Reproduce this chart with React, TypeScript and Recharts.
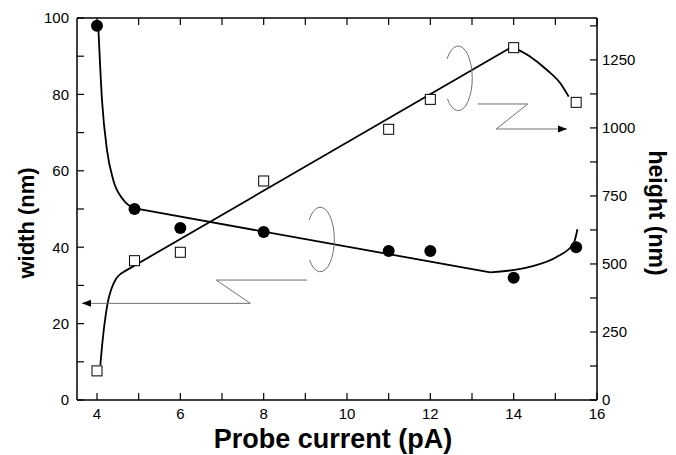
import { ComposedChart, Line, Scatter, XAxis, YAxis, ReferenceDot } from 'recharts';

// measured points
const currentPA = [4, 4.9, 6, 8, 11, 12, 14, 15.5];
const widthNm = [98, 50, 45, 44, 39, 39, 32, 40];
const heightNm = [107, 512, 543, 805, 995, 1105, 1295, 1094];

// guide curves, [x, y]
const widthFitLow = [[4.03, 98], [4.12, 78.5], [4.24, 65.4], [4.39, 57.6], [4.63, 52.4], [4.88, 50.2]];
const widthFitMid = [[4.88, 50.2], [13.44, 33.4]];
const widthFitHigh = [[13.44, 33.4], [14.4, 34.9], [15.04, 37.5], [15.44, 41], [15.53, 44.7]];
const heightFitLow = [[4.08, 128], [4.12, 196], [4.24, 343], [4.4, 429], [4.64, 471]];
const heightFitMid = [[4.64, 471], [13.96, 1298]];
const heightFitHigh = [[13.96, 1298], [14.4, 1262], [14.8, 1213], [15.12, 1164], [15.32, 1115]];

// zigzag pointers
const widthPointer = [[9.04, 31.4], [6.86, 31.4], [7.68, 25.3], [3.64, 25.3]];
const heightPointer = [[13.14, 1088], [14.34, 1088], [13.58, 996], [15.28, 996]];

const xTicks = [4, 5, 6, 7, 8, 9, 10, 11, 12, 13, 14, 15, 16];
const widthTicks = [0, 10, 20, 30, 40, 50, 60, 70, 80, 90, 100];
const heightTicks = [0, 125, 250, 375, 500, 625, 750, 875, 1000, 1125, 1250, 1375];

const toPts = (arr: number[][]) => arr.map(([x, y]) => ({ x, y }));
const widthData = currentPA.map((x, i) => ({ x, y: widthNm[i] }));
const heightData = currentPA.map((x, i) => ({ x, y: heightNm[i] }));

const GREY = '#707070';
const tickStyle = { fill: '#000', fontSize: 15, fontFamily: 'Liberation Sans, Arial, sans-serif' };
const titleFont = 'Liberation Sans, Arial, sans-serif';

const Dot = (p: any) => <circle cx={p.cx} cy={p.cy} r={6} fill="#000" />;
const Square = (p: any) => (
  <rect x={p.cx - 5} y={p.cy - 5} width={10} height={10} fill="#fff" stroke="#000" strokeWidth={1} />
);

const loop = (top: number, bottom: number) => (p: any) => (
  <path
    d={`M${p.cx - top},${p.cy - 19.5} A14,32.3 0 1 1 ${p.cx - bottom},${p.cy + 20.5}`}
    fill="none"
    stroke={GREY}
    strokeWidth={1}
  />
);

const arrowLeft = (p: any) => (
  <polygon points={`${p.cx},${p.cy} ${p.cx + 9},${p.cy - 3.5} ${p.cx + 9},${p.cy + 3.5}`} fill="#000" />
);
const arrowRight = (p: any) => (
  <polygon points={`${p.cx},${p.cy} ${p.cx - 9},${p.cy - 3.5} ${p.cx - 9},${p.cy + 3.5}`} fill="#000" />
);

export default function App() {
  return (
    <div style={{ position: 'absolute', left: 0, top: 0 }}>
      <ComposedChart width={676} height={455} margin={{ top: 17, right: 0, bottom: 0, left: 0 }}>
        <XAxis
          xAxisId="b"
          type="number"
          dataKey="x"
          domain={[3.52, 16]}
          allowDataOverflow
          ticks={xTicks}
          interval={0}
          tickFormatter={(v: number) => (v % 2 === 0 ? String(v) : '')}
          tickSize={-7}
          tickMargin={15}
          height={55}
          axisLine={{ stroke: '#000', strokeWidth: 1.5 }}
          tickLine={{ stroke: '#000', strokeWidth: 1.2 }}
          tick={tickStyle}
          label={(p: any) => (
            <text
              x={p.viewBox.x + p.viewBox.width / 2 - 4}
              y={p.viewBox.y + 48}
              textAnchor="middle"
              fontFamily={titleFont}
              fontWeight="bold"
              fontSize={27}
              fill="#000"
            >
              Probe current (pA)
            </text>
          )}
        />
        <XAxis
          xAxisId="t"
          orientation="top"
          type="number"
          dataKey="x"
          domain={[3.52, 16]}
          allowDataOverflow
          ticks={xTicks}
          interval={0}
          tickFormatter={() => ''}
          tickSize={-7}
          height={1}
          axisLine={{ stroke: '#000', strokeWidth: 1.5 }}
          tickLine={{ stroke: '#000', strokeWidth: 1.2 }}
          tick={tickStyle}
        />
        <YAxis
          yAxisId="w"
          type="number"
          dataKey="y"
          domain={[0, 100]}
          allowDataOverflow
          ticks={widthTicks}
          interval={0}
          tickFormatter={(v: number) => (v % 20 === 0 ? String(v) : '')}
          tickSize={-7}
          tickMargin={15}
          width={77}
          axisLine={{ stroke: '#000', strokeWidth: 1.5 }}
          tickLine={{ stroke: '#000', strokeWidth: 1.2 }}
          tick={tickStyle}
          label={(p: any) => (
            <text
              transform={`translate(34, ${p.viewBox.y + 205}) rotate(-90)`}
              textAnchor="middle"
              fontFamily={titleFont}
              fontWeight="bold"
              fontSize={22}
              fill="#000"
            >
              width (nm)
            </text>
          )}
        />
        <YAxis
          yAxisId="h"
          orientation="right"
          type="number"
          dataKey="y"
          domain={[0, 1404]}
          allowDataOverflow
          ticks={heightTicks}
          interval={0}
          tickFormatter={(v: number) => (v % 250 === 0 ? String(v) : '')}
          tickSize={-7}
          tickMargin={12}
          width={79}
          axisLine={{ stroke: '#000', strokeWidth: 1.5 }}
          tickLine={{ stroke: '#000', strokeWidth: 1.2 }}
          tick={tickStyle}
          label={(p: any) => (
            <text
              transform={`translate(649, ${p.viewBox.y + 195}) rotate(90)`}
              textAnchor="middle"
              fontFamily={titleFont}
              fontWeight="bold"
              fontSize={23}
              fill="#000"
            >
              height (nm)
            </text>
          )}
        />

        <Line xAxisId="b" yAxisId="w" data={toPts(widthFitLow)} dataKey="y" type="monotone" stroke="#000" strokeWidth={1.8} dot={false} activeDot={false} isAnimationActive={false} />
        <Line xAxisId="b" yAxisId="w" data={toPts(widthFitMid)} dataKey="y" type="linear" stroke="#000" strokeWidth={1.8} dot={false} activeDot={false} isAnimationActive={false} />
        <Line xAxisId="b" yAxisId="w" data={toPts(widthFitHigh)} dataKey="y" type="monotone" stroke="#000" strokeWidth={1.8} dot={false} activeDot={false} isAnimationActive={false} />
        <Line xAxisId="b" yAxisId="h" data={toPts(heightFitLow)} dataKey="y" type="monotone" stroke="#000" strokeWidth={1.8} dot={false} activeDot={false} isAnimationActive={false} />
        <Line xAxisId="b" yAxisId="h" data={toPts(heightFitMid)} dataKey="y" type="linear" stroke="#000" strokeWidth={1.8} dot={false} activeDot={false} isAnimationActive={false} />
        <Line xAxisId="b" yAxisId="h" data={toPts(heightFitHigh)} dataKey="y" type="monotone" stroke="#000" strokeWidth={1.8} dot={false} activeDot={false} isAnimationActive={false} />

        <Line xAxisId="b" yAxisId="w" data={toPts(widthPointer)} dataKey="y" type="linear" stroke={GREY} strokeWidth={1} dot={false} activeDot={false} isAnimationActive={false} />
        <Line xAxisId="b" yAxisId="h" data={toPts(heightPointer)} dataKey="y" type="linear" stroke={GREY} strokeWidth={1} dot={false} activeDot={false} isAnimationActive={false} />

        <ReferenceDot xAxisId="b" yAxisId="w" x={9.36} y={42.0} shape={loop(11.2, 10.8)} />
        <ReferenceDot xAxisId="b" yAxisId="h" x={12.67} y={1182} shape={loop(11.2, 10.8)} />
        <ReferenceDot xAxisId="b" yAxisId="w" x={3.64} y={25.3} shape={arrowLeft} />
        <ReferenceDot xAxisId="b" yAxisId="h" x={15.28} y={996} shape={arrowRight} />

        <Scatter xAxisId="b" yAxisId="w" data={widthData} shape={Dot} isAnimationActive={false} />
        <Scatter xAxisId="b" yAxisId="h" data={heightData} shape={Square} isAnimationActive={false} />
      </ComposedChart>
    </div>
  );
}
